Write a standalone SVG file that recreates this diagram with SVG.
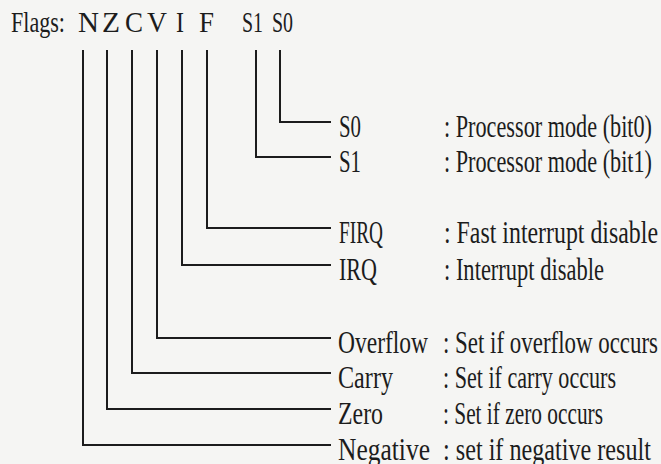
<svg xmlns="http://www.w3.org/2000/svg" width="661" height="464" viewBox="0 0 661 464">
<style>
.t{font-family:"Liberation Serif","DejaVu Serif",serif;fill:#1c1c1c;}
.h{font-size:30px;}
.l{font-size:32px;}
.c{fill:none;stroke:#1c1c1c;stroke-width:2;}
</style>
<rect width="661" height="464" fill="#f5f5f3"/>
<g id="title">
<text class="t h" x="11" y="32" textLength="54" lengthAdjust="spacingAndGlyphs">Flags:</text>
<text class="t h" x="78" y="32" textLength="21" lengthAdjust="spacingAndGlyphs">N</text>
<text class="t h" x="102" y="32" textLength="18" lengthAdjust="spacingAndGlyphs">Z</text>
<text class="t h" x="125" y="32" textLength="18" lengthAdjust="spacingAndGlyphs">C</text>
<text class="t h" x="147" y="32" textLength="20" lengthAdjust="spacingAndGlyphs">V</text>
<text class="t h" x="176" y="32" textLength="8" lengthAdjust="spacingAndGlyphs">I</text>
<text class="t h" x="199" y="32" textLength="15" lengthAdjust="spacingAndGlyphs">F</text>
<text class="t h" x="242" y="32" textLength="21" lengthAdjust="spacingAndGlyphs">S1</text>
<text class="t h" x="272" y="32" textLength="21" lengthAdjust="spacingAndGlyphs">S0</text>
</g>
<g id="connectors">
<path class="c" d="M280 50V122H331"/>
<path class="c" d="M256 50V157H331"/>
<path class="c" d="M207 50V228H331"/>
<path class="c" d="M182 50V265H331"/>
<path class="c" d="M157 50V338H331"/>
<path class="c" d="M132 50V373H331"/>
<path class="c" d="M107 50V409H331"/>
<path class="c" d="M83 50V445H331"/>
</g>
<g id="s0"><text class="t l" x="339" y="137" textLength="22" lengthAdjust="spacingAndGlyphs">S0</text><text class="t l" x="444" y="137" textLength="208" lengthAdjust="spacingAndGlyphs">: Processor mode (bit0)</text></g>
<g id="s1"><text class="t l" x="339" y="172" textLength="22" lengthAdjust="spacingAndGlyphs">S1</text><text class="t l" x="444" y="172" textLength="208" lengthAdjust="spacingAndGlyphs">: Processor mode (bit1)</text></g>
<g id="firq"><text class="t l" x="339" y="243" textLength="44" lengthAdjust="spacingAndGlyphs">FIRQ</text><text class="t l" x="444" y="243" textLength="214" lengthAdjust="spacingAndGlyphs">: Fast interrupt disable</text></g>
<g id="irq"><text class="t l" x="339" y="280" textLength="38" lengthAdjust="spacingAndGlyphs">IRQ</text><text class="t l" x="444" y="280" textLength="160" lengthAdjust="spacingAndGlyphs">: Interrupt disable</text></g>
<g id="overflow"><text class="t l" x="338" y="353" textLength="90" lengthAdjust="spacingAndGlyphs">Overflow</text><text class="t l" x="443" y="353" textLength="215" lengthAdjust="spacingAndGlyphs">: Set if overflow occurs</text></g>
<g id="carry"><text class="t l" x="338" y="388" textLength="55" lengthAdjust="spacingAndGlyphs">Carry</text><text class="t l" x="443" y="388" textLength="173" lengthAdjust="spacingAndGlyphs">: Set if carry occurs</text></g>
<g id="zero"><text class="t l" x="338" y="424" textLength="45" lengthAdjust="spacingAndGlyphs">Zero</text><text class="t l" x="443" y="424" textLength="160" lengthAdjust="spacingAndGlyphs">: Set if zero occurs</text></g>
<g id="negative"><text class="t l" x="338" y="460" textLength="92" lengthAdjust="spacingAndGlyphs">Negative</text><text class="t l" x="443" y="460" textLength="208" lengthAdjust="spacingAndGlyphs">: set if negative result</text></g>
</svg>
